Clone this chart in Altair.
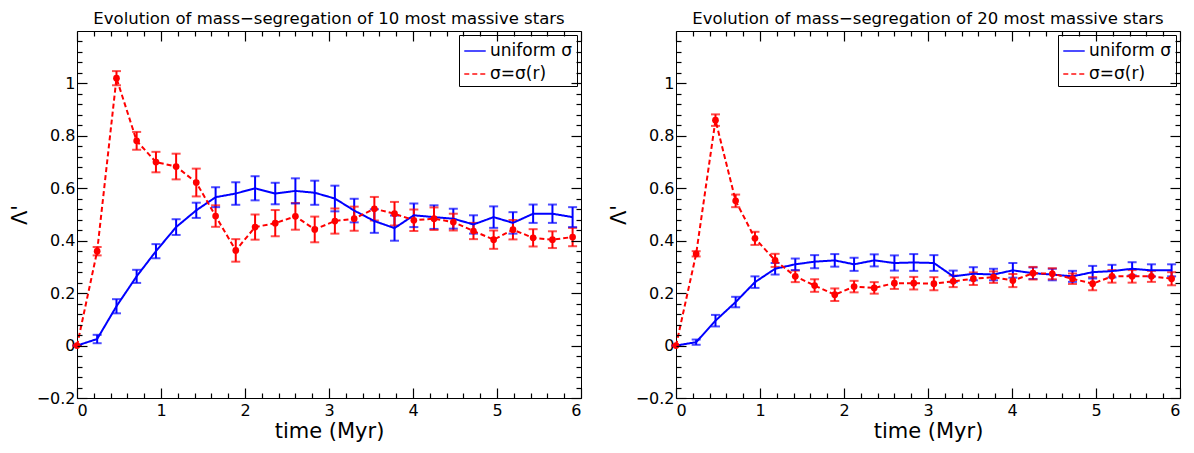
import altair as alt
import pandas as pd

# ---- data ----
time = [0, 0.24, 0.47, 0.71, 0.94, 1.18, 1.42, 1.65, 1.89, 2.12, 2.36, 2.6, 2.83,
        3.07, 3.3, 3.54, 3.78, 4.01, 4.25, 4.48, 4.72, 4.96, 5.19, 5.43, 5.66, 5.9]

uni10 = [0, 0.025, 0.15, 0.264, 0.36, 0.452, 0.516, 0.566, 0.58, 0.60, 0.58, 0.59, 0.583,
         0.561, 0.515, 0.475, 0.448, 0.497, 0.49, 0.484, 0.462, 0.49, 0.468, 0.503, 0.503, 0.49]
uni10_err = [0, 0.016, 0.027, 0.025, 0.027, 0.03, 0.029, 0.038, 0.043, 0.046, 0.041, 0.048, 0.046,
             0.049, 0.045, 0.045, 0.048, 0.045, 0.045, 0.038, 0.035, 0.041, 0.041, 0.035, 0.035, 0.038]
rad10 = [0, 0.36, 1.02, 0.781, 0.70, 0.683, 0.622, 0.494, 0.363, 0.452, 0.467, 0.493, 0.443,
         0.475, 0.484, 0.522, 0.503, 0.478, 0.484, 0.471, 0.437, 0.404, 0.442, 0.411, 0.404, 0.414]
rad10_err = [0, 0.016, 0.027, 0.034, 0.039, 0.049, 0.053, 0.041, 0.043, 0.048, 0.05, 0.051, 0.049,
             0.048, 0.046, 0.045, 0.045, 0.041, 0.043, 0.032, 0.031, 0.035, 0.037, 0.033, 0.032, 0.035]

uni20 = [0, 0.013, 0.095, 0.166, 0.242, 0.293, 0.31, 0.32, 0.325, 0.31, 0.325, 0.315, 0.317,
         0.315, 0.264, 0.274, 0.271, 0.287, 0.276, 0.271, 0.264, 0.28, 0.284, 0.293, 0.287, 0.287]
uni20_err = [0, 0.01, 0.022, 0.02, 0.022, 0.022, 0.022, 0.025, 0.024, 0.025, 0.023, 0.029, 0.032,
             0.03, 0.022, 0.025, 0.022, 0.028, 0.022, 0.022, 0.021, 0.024, 0.024, 0.025, 0.023, 0.023]
rad20 = [0, 0.35, 0.86, 0.552, 0.409, 0.325, 0.264, 0.229, 0.194, 0.225, 0.22, 0.238, 0.238,
         0.236, 0.245, 0.255, 0.261, 0.248, 0.276, 0.274, 0.255, 0.236, 0.264, 0.264, 0.264, 0.255]
rad20_err = [0, 0.01, 0.022, 0.024, 0.025, 0.025, 0.022, 0.024, 0.024, 0.022, 0.022, 0.022, 0.024,
             0.025, 0.022, 0.024, 0.022, 0.025, 0.024, 0.021, 0.02, 0.025, 0.024, 0.024, 0.021, 0.025]

series_names = ["uniform σ", "σ=σ(r)"]
series_colors = ["#0000FF", "#FF0000"]
titles = ["Evolution of mass\u2212segregation of 10 most massive stars",
          "Evolution of mass\u2212segregation of 20 most massive stars"]

x_major = [0, 1, 2, 3, 4, 5, 6]
x_minor = [round(i * 0.2, 2) for i in range(31) if i % 5 != 0]
y_major = [-0.2, 0, 0.2, 0.4, 0.6, 0.8, 1.0]
y_minor = [round(-0.2 + i * 0.04, 2) for i in range(36) if i % 5 != 0]


def make_df(u, ue, r, re):
    a = pd.DataFrame({"t": time, "v": u, "e": ue, "series": series_names[0]})
    b = pd.DataFrame({"t": time, "v": r, "e": re, "series": series_names[1]})
    df = pd.concat([a, b], ignore_index=True)
    df["lo"] = df["v"] - df["e"]
    df["hi"] = df["v"] + df["e"]
    return df


FONT = "DejaVu Sans"
H = 367
W = 504


def tick_axis(orient, offset, values, size, domain=False):
    return alt.Axis(orient=orient, offset=offset, values=values, tickSize=size,
                    labels=False, domain=domain, domainColor="black", domainWidth=1,
                    grid=False, title=None, tickColor="black", tickWidth=1.2,
                    zindex=1)


def panel(df, title):
    xs = alt.Scale(domain=[0, 6], nice=False)
    ys = alt.Scale(domain=[-0.2, 1.2], nice=False)
    leg = alt.Legend(title=None, orient="top-right", offset=4,
                     strokeColor="black", fillColor="white", padding=4,
                     labelFontSize=17, labelFont=FONT, symbolType="stroke",
                     symbolStrokeWidth=2, symbolSize=460, rowPadding=3,
                     labelOffset=3, cornerRadius=0, labelColor="black")
    col = alt.Color("series:N", scale=alt.Scale(domain=series_names, range=series_colors),
                    legend=leg)
    dash = alt.StrokeDash("series:N",
                          scale=alt.Scale(domain=series_names, range=[[1, 0], [5, 3]]),
                          legend=leg)
    base = alt.Chart(df)

    lines = base.mark_line(strokeWidth=2).encode(
        x=alt.X("t:Q", scale=xs,
                axis=alt.Axis(orient="bottom", values=x_major, ticks=False, domain=True,
                              domainColor="black", domainWidth=1,
                              grid=False, title="time (Myr)", labelFontSize=16,
                              titleFontSize=21, labelPadding=4, titlePadding=2,
                              titleFontWeight="normal", labelFont=FONT, titleFont=FONT,
                              labelColor="black", titleColor="black")),
        y=alt.Y("v:Q", scale=ys,
                axis=alt.Axis(orient="left", values=y_major, format="~g", ticks=False,
                              domain=True, domainColor="black", domainWidth=1,
                              grid=False, title="Λ'", labelFontSize=16,
                              titleFontSize=21, labelPadding=2, titlePadding=6,
                              titleFontWeight="normal", labelFont=FONT, titleFont=FONT,
                              labelColor="black", titleColor="black")),
        color=col, strokeDash=dash)

    rules = base.mark_rule(strokeWidth=2).encode(
        x=alt.X("t:Q", scale=xs, axis=tick_axis("top", -H, x_major, 10)),
        y=alt.Y("lo:Q", scale=ys, axis=tick_axis("right", -W, y_major, 10)),
        y2="hi:Q",
        color=col)

    caps_hi = base.mark_tick(orient="horizontal", size=9, thickness=2).encode(
        x=alt.X("t:Q", scale=xs, axis=tick_axis("top", -H, x_minor, 5)),
        y=alt.Y("hi:Q", scale=ys, axis=tick_axis("right", -W, y_minor, 5)),
        color=col)

    caps_lo = base.mark_tick(orient="horizontal", size=9, thickness=2).encode(
        x=alt.X("t:Q", scale=xs, axis=tick_axis("bottom", -H, x_major, 10, True)),
        y=alt.Y("lo:Q", scale=ys, axis=tick_axis("left", -W, y_major, 10, True)),
        color=col)

    pts = base.transform_filter(alt.datum.series == series_names[1]).mark_point(
        filled=True, shape="circle", size=45, opacity=1, color="#FF0000").encode(
        x=alt.X("t:Q", scale=xs, axis=tick_axis("bottom", -H, x_minor, 5)),
        y=alt.Y("v:Q", scale=ys, axis=tick_axis("left", -W, y_minor, 5)))

    return alt.layer(rules, caps_hi, caps_lo, lines, pts).resolve_axis(
        x="independent", y="independent").properties(
        width=W, height=H,
        title=alt.TitleParams(title, fontSize=16.5, font=FONT, fontWeight="normal",
                              anchor="middle", offset=3, color="black"))


left = panel(make_df(uni10, uni10_err, rad10, rad10_err), titles[0])
right = panel(make_df(uni20, uni20_err, rad20, rad20_err), titles[1])

chart = alt.hconcat(left, right, spacing=26).resolve_scale(
    color="independent", strokeDash="independent").resolve_legend(
    color="independent", strokeDash="independent").properties(
    padding={"left": 1, "top": 2, "right": 2, "bottom": 2},
    background="white").configure_view(stroke=None)

chart.save("out.html", embed_options={"renderer": "svg", "actions": False})
